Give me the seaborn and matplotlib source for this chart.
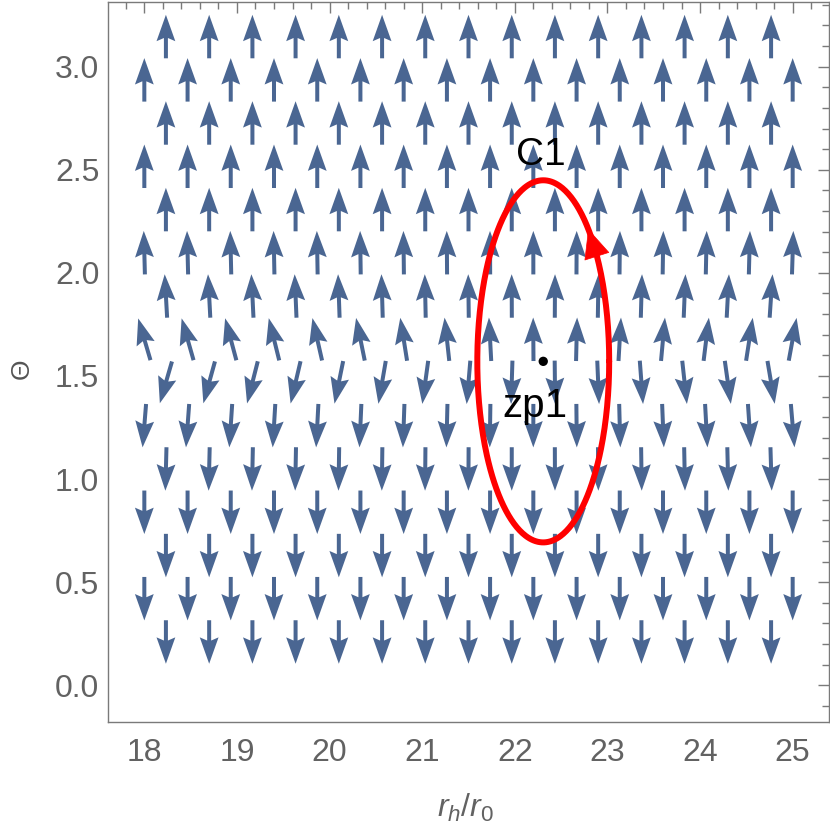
import numpy as np
import pandas as pd
import matplotlib
matplotlib.use("Agg")
import matplotlib.pyplot as plt
from matplotlib.ticker import MultipleLocator
import seaborn as sns

# ---------------- data ----------------
# vector-field sample rows (theta) from top to bottom
row_theta = [3.146, 2.936, 2.727, 2.517, 2.307, 2.098, 1.888, 1.678,
             1.469, 1.259, 1.049, 0.839, 0.629, 0.420, 0.210]
# r_h/r_0 sample columns: staggered rows (15) and full rows (16)
cols_offset = [18.233, 18.700, 19.167, 19.633, 20.100, 20.567, 21.033, 21.500,
               21.967, 22.433, 22.900, 23.367, 23.833, 24.300, 24.767]
cols_full = [18.000, 18.467, 18.933, 19.400, 19.867, 20.333, 20.800, 21.267,
             21.733, 22.200, 22.667, 23.133, 23.600, 24.067, 24.533, 25.000]
# vertical sense of the arrows in every row (+1 up, -1 down)
row_sense = [1, 1, 1, 1, 1, 1, 1, 1, -1, -1, -1, -1, -1, -1, -1]
# horizontal tilt (degrees, + = to the right) of the arrows in the rows near theta = pi/2
tilt_row6 = [-1.5, -1.4, -1.3, -1.1, -1.0, -0.8, -0.6, -0.4, -0.2, 0.0, 0.3, 0.6, 0.9, 1.2, 1.5, 1.8]
tilt_row7 = [-3.2, -3.0, -2.8, -2.4, -2.0, -1.7, -1.2, -0.7, -0.2, 0.3, 0.9, 1.6, 2.3, 3.0, 3.8]
tilt_row8 = [-16.4, -15.9, -15.0, -13.9, -12.8, -11.5, -9.0, -6.2, -3.0, -0.4, 1.4, 3.3, 5.2, 7.0, 8.8, 10.4]
tilt_row9 = [-16.2, -15.5, -14.3, -13.2, -11.5, -9.8, -7.8, -4.8, -1.8, 0.6, 2.4, 4.3, 6.2, 8.0, 9.6]
tilt_row10 = [-4.6, -4.2, -3.8, -3.4, -3.0, -2.5, -2.0, -1.4, -0.8, -0.1, 0.6, 1.5, 2.3, 3.1, 3.9, 4.8]
tilt_row11 = [-1.5, -1.4, -1.2, -1.1, -0.9, -0.7, -0.5, -0.3, 0.0, 0.2, 0.5, 0.8, 1.1, 1.4, 1.7]
row_tilts = {5: tilt_row6, 6: tilt_row7, 7: tilt_row8, 8: tilt_row9, 9: tilt_row10, 10: tilt_row11}

# zero point and contour
zp1_r, zp1_theta = 22.307, 1.571
c1_ar, c1_btheta = 0.712, 0.878
labels_text = ["C1", "zp1"]

x_ticks = [18, 19, 20, 21, 22, 23, 24, 25]
y_ticks = [0.0, 0.5, 1.0, 1.5, 2.0, 2.5, 3.0]

# ---------------- build field table ----------------
recs = []
for i, th in enumerate(row_theta):
    cols = cols_offset if i % 2 == 0 else cols_full
    tilts = row_tilts.get(i, [0.0] * len(cols))
    for r, t in zip(cols, tilts):
        a = np.deg2rad(t)
        recs.append((r, th, np.sin(a), row_sense[i] * np.cos(a)))
field = pd.DataFrame(recs, columns=["r", "theta", "u", "v"])

# ---------------- style ----------------
sns.set_theme(style="white")
plt.rcParams["font.family"] = ["Liberation Sans", "DejaVu Sans"]
plt.rcParams["mathtext.fontset"] = "custom"
plt.rcParams["mathtext.it"] = "Liberation Sans:italic"
plt.rcParams["mathtext.rm"] = "Liberation Sans"

frame_col = "#7a7a7a"
lab_col = "#626262"

fig = plt.figure(figsize=(8.30, 8.27), dpi=100)
ax = fig.add_axes([108.3 / 830, 1 - 721.7 / 827, 720.4 / 830, 720.0 / 827])

ax.quiver(field["r"], field["theta"], field["u"], field["v"],
          angles="uv", pivot="middle", scale_units="inches", scale=1 / 0.435,
          units="dots", width=4.0, headwidth=4.7, headlength=6.6,
          headaxislength=5.8, color="#4a6692", zorder=2)

# contour C1
t = np.linspace(0, 2 * np.pi, 400)
ell = pd.DataFrame({"r": zp1_r + c1_ar * np.cos(t),
                    "theta": zp1_theta + c1_btheta * np.sin(t)})
sns.lineplot(data=ell, x="r", y="theta", sort=False, estimator=None,
             color="#ff0000", lw=4.3, ax=ax, zorder=3)
tb, tt = np.deg2rad(35.0), np.deg2rad(47.0)
ax.annotate("", xy=(zp1_r + c1_ar * np.cos(tt), zp1_theta + c1_btheta * np.sin(tt)),
            xytext=(zp1_r + c1_ar * np.cos(tb), zp1_theta + c1_btheta * np.sin(tb)),
            arrowprops=dict(arrowstyle="-|>,head_length=1.0,head_width=0.45",
                            mutation_scale=20, color="#ff0000", lw=0.5,
                            shrinkA=0, shrinkB=0), zorder=4)

# zero point
sns.scatterplot(x=[zp1_r], y=[zp1_theta], color="black", s=45, ax=ax,
                zorder=5, edgecolor="none")
ax.text(22.283, 2.523, labels_text[0], ha="center", va="baseline",
        fontsize=28, color="black", zorder=6)
ax.text(22.218, 1.303, labels_text[1], ha="center", va="baseline",
        fontsize=29, color="black", zorder=6)

# axes
ax.set_xlim(17.611, 25.389)
ax.set_ylim(-0.1765, 3.315)
ax.set_xticks(x_ticks)
ax.set_xticklabels([str(v) for v in x_ticks])
ax.set_yticks(y_ticks)
ax.set_yticklabels([f"{v:.1f}" for v in y_ticks])
ax.xaxis.set_minor_locator(MultipleLocator(0.2))
ax.yaxis.set_minor_locator(MultipleLocator(0.1))
ax.tick_params(which="both", direction="in", top=True, right=True,
               color=frame_col, width=1.0)
ax.tick_params(which="major", length=7.7, labelsize=23, labelcolor=lab_col)
ax.tick_params(which="minor", length=4.8)
ax.tick_params(axis="x", which="major", pad=12)
ax.tick_params(axis="y", which="major", pad=6.5)
for s in ax.spines.values():
    s.set_color(frame_col)
    s.set_linewidth(1.0)

ax.set_xlabel(r"$r_h/r_0$", fontsize=23, color=lab_col)
ax.set_ylabel("Θ", fontsize=19, color="#555555")
ax.xaxis.set_label_coords(0.496, -0.098)
ax.yaxis.set_label_coords(-0.104, 0.49)

fig.savefig("out.png", dpi=100)
